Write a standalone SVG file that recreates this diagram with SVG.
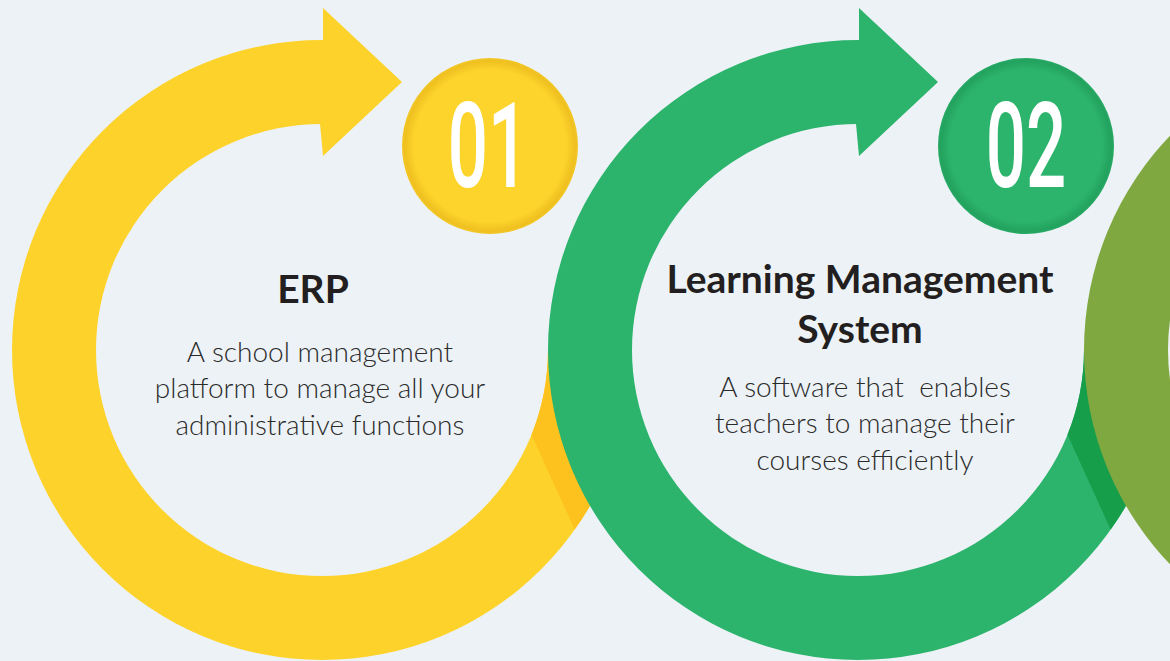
<svg xmlns="http://www.w3.org/2000/svg" width="1170" height="661" viewBox="0 0 1170 661">
  <defs>
    <style>
      .title { font-family: Lato, "Open Sans", sans-serif; font-weight: 700; font-size: 39px; fill: #231F20; text-anchor: middle; }
      .body { font-family: Lato, "Open Sans", sans-serif; font-weight: 300; font-size: 28px; fill: #2B2B2B; text-anchor: middle; white-space: pre; }
      .num { font-family: Roboto, "Liberation Sans", sans-serif; font-weight: 500; font-size: 118px; fill: #FFFFFF; text-anchor: middle; }
    </style>
    <radialGradient id="gY" cx="0.5" cy="0.5" r="0.5">
      <stop offset="0.86" stop-color="#FDD42C"/>
      <stop offset="0.97" stop-color="#EFC020"/>
      <stop offset="1" stop-color="#F2C826"/>
    </radialGradient>
    <radialGradient id="gG" cx="0.5" cy="0.5" r="0.5">
      <stop offset="0.86" stop-color="#2DB46C"/>
      <stop offset="0.97" stop-color="#22A25E"/>
      <stop offset="1" stop-color="#27AA64"/>
    </radialGradient>
    <path id="ring" d="M 0 -310 A 310 310 0 1 0 310 0 L 226 0 A 226 226 0 1 1 0 -226 Z"/>
    <path id="band" d="M 252.7 179.6 A 310 310 0 0 0 310 0 L 226 0 A 226 226 0 0 1 209.5 84.7 Z"/>
    <polygon id="head" points="-2,-310 1,-310 1,-342 80,-268 1,-194 -2,-226"/>
  </defs>
  <rect width="1170" height="661" fill="#EDF2F6"/>

  <g id="step1">
    <g transform="translate(322,350)">
      <use href="#ring" fill="#FDD32B"/>
      <use href="#band" fill="#FEC21F"/>
      <use href="#head" fill="#FDD32B"/>
    </g>
    <circle cx="490" cy="146" r="88" fill="url(#gY)"/>
    <text class="num" transform="translate(488,187) scale(0.6,1)">01</text>
    <text class="title" x="313" y="303">ERP</text>
    <text class="body" x="320" y="362">A school management</text>
    <text class="body" x="320" y="398">platform to manage all your</text>
    <text class="body" x="320" y="435">administrative functions</text>
  </g>

  <g id="step2">
    <g transform="translate(858,350)">
      <use href="#ring" fill="#2DB46C"/>
      <use href="#band" fill="#169E4A"/>
      <use href="#head" fill="#2DB46C"/>
    </g>
    <circle cx="1026" cy="146" r="88" fill="url(#gG)"/>
    <text class="num" transform="translate(1026,187) scale(0.6,1)">02</text>
    <text class="title" x="860" y="293">Learning Management</text>
    <text class="title" x="860" y="343">System</text>
    <text class="body" x="865" y="397" xml:space="preserve">A software that  enables</text>
    <text class="body" x="865" y="433">teachers to manage their</text>
    <text class="body" x="865" y="470">courses efficiently</text>
  </g>

  <g id="step3">
    <g transform="translate(1394,350)">
      <use href="#ring" fill="#80A840"/>
    </g>
  </g>

  <g id="connectors"></g>
</svg>
